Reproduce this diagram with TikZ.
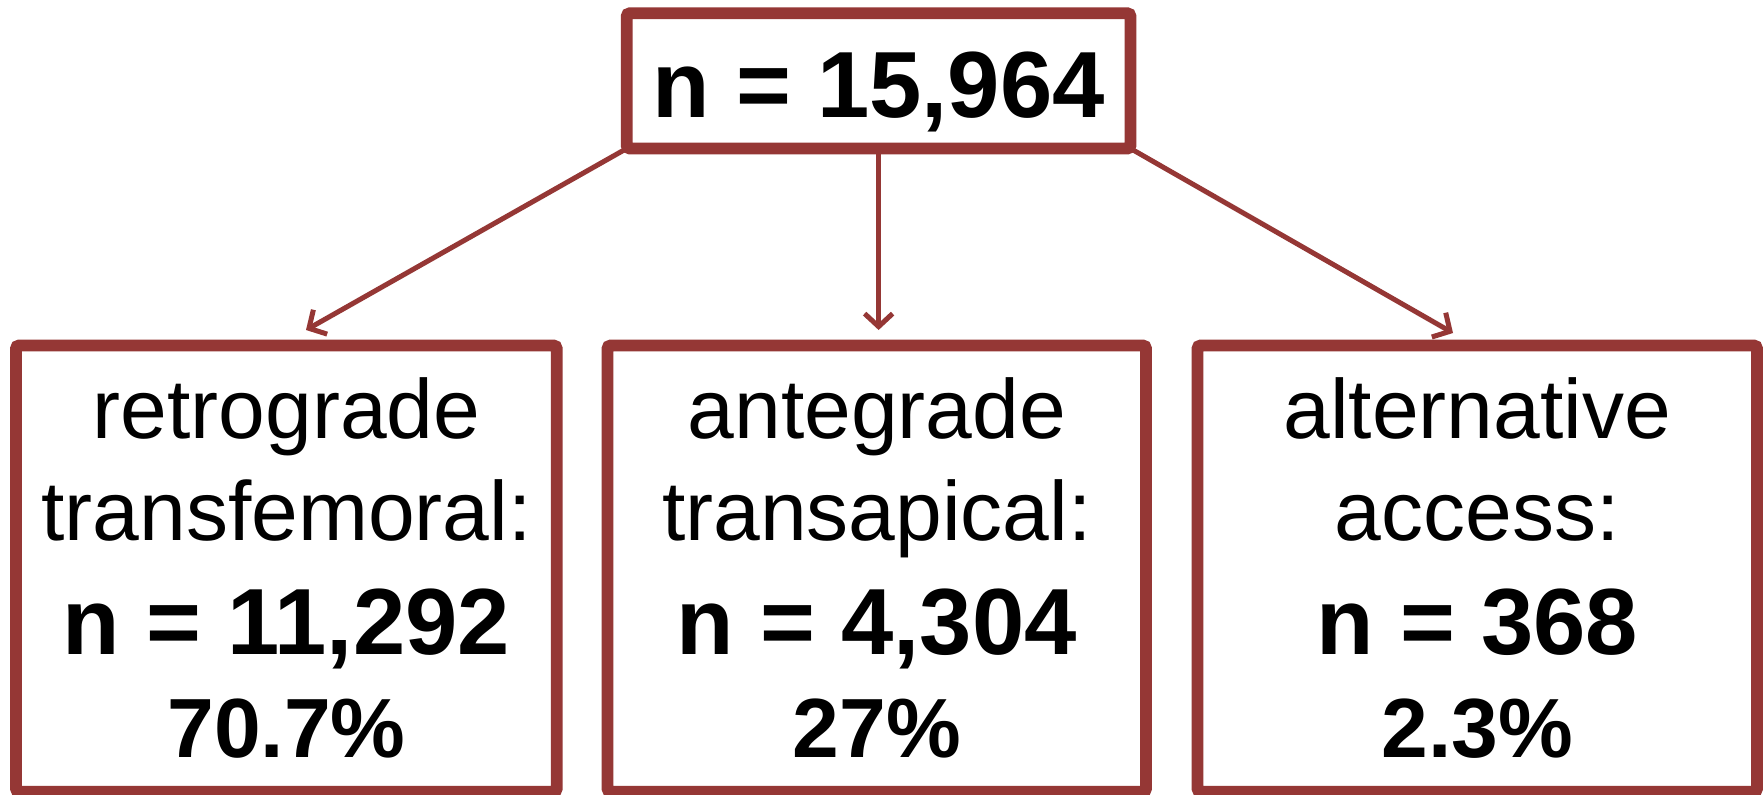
\documentclass[tikz,border=0pt]{standalone}
\usepackage{fontspec}
\setmainfont{Liberation Sans}
\usetikzlibrary{arrows.meta}
\definecolor{dred}{HTML}{953735}
\tikzset{
  boxnode/.style={draw=dred, line width=5.85pt, fill=white, inner sep=0pt, outer sep=0pt, rounded corners=1.5pt},
  arr/.style={draw=dred, line width=2.5pt, line cap=round, line join=round, -{Straight Barb[length=6.5pt,width=14pt]}},
  big/.style={font=\fontsize{47pt}{47pt}\selectfont\bfseries, inner sep=0pt, anchor=base},
  reg/.style={font=\fontsize{42pt}{42pt}\selectfont, inner sep=0pt, anchor=base},
  pct/.style={font=\fontsize{42pt}{42pt}\selectfont\bfseries, inner sep=0pt, anchor=base}
}
\begin{document}
\begin{tikzpicture}[x=0.5pt,y=-0.5pt]
\useasboundingbox (0,0) rectangle (1763,794);
\fill[white] (0,0) rectangle (1763,794);
% boxes
\node[boxnode, minimum width=251.9pt, minimum height=67.6pt] (top) at (878.6,80.9) {};
\node[boxnode, minimum width=270.35pt, minimum height=223.1pt] (b1) at (286.35,568.6) {};
\node[boxnode, minimum width=269.25pt, minimum height=223.1pt] (b2) at (876.75,568.6) {};
\node[boxnode, minimum width=279.75pt, minimum height=223.1pt] (b3) at (1477.25,568.6) {};
% texts
\node[big] (ttop) at (878.6,117) {n = 15,964};
\node[reg] (l1a) at (286.4,438) {retrograde};
\node[reg] (l1b) at (286.4,540) {transfemoral:};
\node[big] (l1c) at (286.4,654) {n = 11,292};
\node[pct] (l1d) at (286.4,757) {70.7\%};
\node[reg] (l2a) at (876.8,438) {antegrade};
\node[reg] (l2b) at (876.8,540) {transapical:};
\node[big] (l2c) at (876.8,654) {n = 4,304};
\node[pct] (l2d) at (876.8,757) {27\%};
\node[reg] (l3a) at (1477.3,438) {alternative};
\node[reg] (l3b) at (1477.3,540) {access:};
\node[big] (l3c) at (1477.3,654) {n = 368};
\node[pct] (l3d) at (1477.3,757) {2.3\%};
% arrows
\coordinate (t1) at (306,330);
\coordinate (t2) at (878.6,330);
\coordinate (t3) at (1453,333);
\draw[arr] (top.south west) -- (t1);
\draw[arr] (top.south) -- (t2);
\draw[arr] (top.south east) -- (t3);
\end{tikzpicture}
\end{document}
